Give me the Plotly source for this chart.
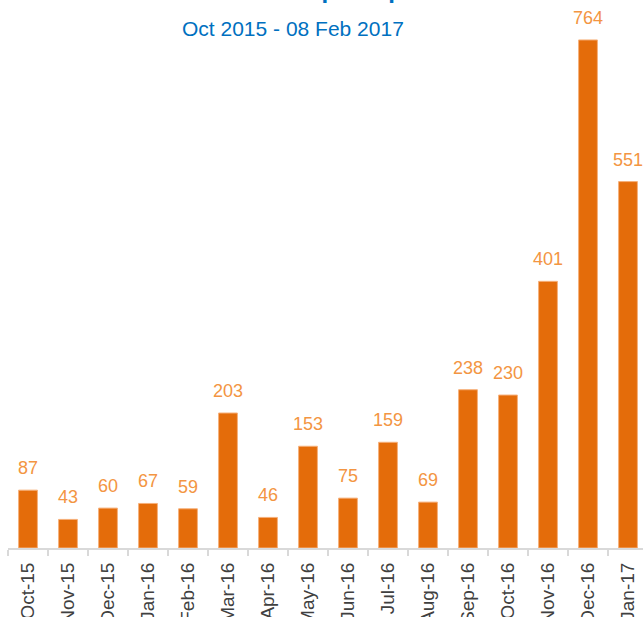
import plotly.graph_objects as go

months = ["Oct-15", "Nov-15", "Dec-15", "Jan-16", "Feb-16", "Mar-16", "Apr-16", "May-16",
          "Jun-16", "Jul-16", "Aug-16", "Sep-16", "Oct-16", "Nov-16", "Dec-16", "Jan-17"]
reports = [87, 43, 60, 67, 59, 203, 46, 153, 75, 159, 69, 238, 230, 401, 764, 551]
title_text = "Total Location Reports per Month"
subtitle_text = "Oct 2015 - 08 Feb 2017"

BAR = "#E46C0A"
LABEL = "#F39542"
BLUE = "#0070C0"
FONT = "Liberation Sans, Arial, sans-serif"

fig = go.Figure()
fig.add_trace(go.Bar(
    x=months, y=reports,
    marker=dict(color=BAR, line=dict(color="#F6B07A", width=1)),
    width=0.47,
    hoverinfo="x+y",
))

annotations = []
for m, v in zip(months, reports):
    annotations.append(dict(
        x=m, y=v, xref="x", yref="y", text=str(v), showarrow=False,
        yanchor="bottom", yshift=10,
        font=dict(family=FONT, size=18, color=LABEL),
    ))
annotations.append(dict(
    x=0.48, y=1, xref="paper", yref="paper", text="<b>" + title_text + "</b>",
    showarrow=False, yanchor="bottom", yshift=11,
    font=dict(family=FONT, size=24, color=BLUE),
))
annotations.append(dict(
    x=0.449, y=0.977, xref="paper", yref="paper", text=subtitle_text,
    showarrow=False, yanchor="middle",
    font=dict(family=FONT, size=21, color=BLUE),
))

fig.update_layout(
    width=643, height=617,
    margin=dict(l=8, r=0, t=16, b=69, autoexpand=False),
    paper_bgcolor="white", plot_bgcolor="white",
    showlegend=False,
    annotations=annotations,
    font=dict(family=FONT),
    xaxis=dict(
        range=[-0.5, 15.375],
        type="category",
        automargin=False,
        showgrid=False,
        showline=True, linecolor="#D9D9D9", linewidth=2,
        ticks="outside", tickson="boundaries", ticklen=6, tickcolor="#D9D9D9", tickwidth=2,
        tickangle=-90,
        tickfont=dict(family=FONT, size=19, color="#404040"),
        ticklabelstandoff=5,
    ),
    yaxis=dict(
        range=[0, 800],
        visible=False,
        automargin=False,
        showgrid=False,
        zeroline=False,
    ),
)

fig.write_html(
    "out.html",
    config={"displayModeBar": False},
    post_script="document.body.style.margin='0';document.body.style.overflow='hidden';",
)
